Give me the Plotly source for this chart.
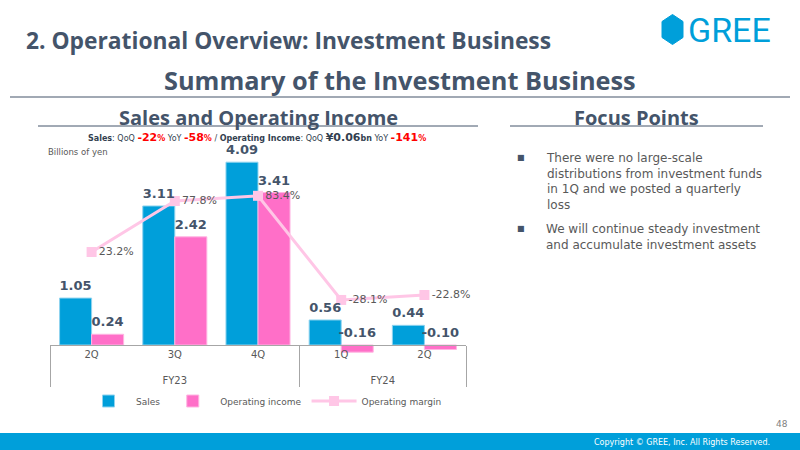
import plotly.graph_objects as go

# ---------------- data ----------------
fiscal_years = ["FY23", "FY23", "FY23", "FY24", "FY24"]
quarters = ["2Q", "3Q", "4Q", "1Q", "2Q"]
sales = [1.05, 3.11, 4.09, 0.56, 0.44]
operating_income = [0.24, 2.42, 3.41, -0.16, -0.10]
operating_margin = [23.2, 77.8, 83.4, -28.1, -22.8]

W, H = 800, 450
def px(x):
    return x / W
def py(y):
    return 1 - y / H

DARK = "#44546A"
GRAY = "#595959"
BLUE = "#009FDA"
PINK = "#FF6FC8"
LPINK = "#FFC6E6"
FONT = "DejaVu Sans"
TFONT = "Open Sans"

# quarter tick labels: a blank (non-breaking) second line adds room below the
# quarter row; the number of blanks keeps repeated quarter names distinct per year
seen = {}
quarter_labels = []
for q in quarters:
    seen[q] = seen.get(q, 0) + 1
    quarter_labels.append(q + "<br>" + "\u00a0" * seen[q])
xcat = [fiscal_years, quarter_labels]
idx = list(range(len(quarters)))
off = 0.1925

fig = go.Figure()
fig.add_trace(go.Bar(
    x=xcat, y=sales, name="Sales",
    marker=dict(color=BLUE, line=dict(color="#8FD3EF", width=1)),
    xaxis="x", yaxis="y",
))
fig.add_trace(go.Bar(
    x=xcat, y=operating_income, name="Operating income",
    marker=dict(color=PINK, line=dict(color="#FFB5E2", width=1)),
    xaxis="x", yaxis="y",
))
fig.add_trace(go.Scatter(
    x=xcat, y=operating_margin, name="Operating margin",
    mode="lines+markers+text",
    line=dict(color=LPINK, width=3),
    marker=dict(symbol="square", size=10, color=LPINK),
    text=[f"{v:.1f}%" for v in operating_margin],
    textposition="middle right",
    textfont=dict(family=FONT, size=11, color=GRAY),
    cliponaxis=False,
    xaxis="x", yaxis="y2",
))
# value labels (hidden numeric overlay axis aligned with the bar slots)
fig.add_trace(go.Scatter(
    x=[i - off for i in idx], y=[max(v, 0) for v in sales],
    mode="markers+text", text=[f"{v:.2f}" for v in sales],
    marker=dict(size=6, opacity=0),
    textposition="top center", cliponaxis=False,
    textfont=dict(family=FONT, size=13, color=DARK, weight="bold"),
    showlegend=False, hoverinfo="skip", xaxis="x2", yaxis="y",
))
fig.add_trace(go.Scatter(
    x=[i + off for i in idx], y=[max(v, 0) for v in operating_income],
    mode="markers+text", text=[f"{v:.2f}" for v in operating_income],
    marker=dict(size=6, opacity=0),
    textposition="top center", cliponaxis=False,
    textfont=dict(family=FONT, size=13, color=DARK, weight="bold"),
    showlegend=False, hoverinfo="skip", xaxis="x2", yaxis="y",
))

# axes geometry
y_top_px, y_bot_px, zero_px = 140, 360, 345
scale1 = 44.7
scale2 = 0.934
zero2_px = 273.7
y_range = [-(y_bot_px - zero_px) / scale1, (zero_px - y_top_px) / scale1]
y2_range = [-(y_bot_px - zero2_px) / scale2, (zero2_px - y_top_px) / scale2]
xdom = [px(50), px(466)]
ydom = [py(y_bot_px), py(y_top_px)]

fig.update_layout(
    width=W, height=H,
    margin=dict(l=0, r=0, t=0, b=0),
    paper_bgcolor="white", plot_bgcolor="rgba(0,0,0,0)",
    barmode="group", bargap=0.23, bargroupgap=0,
    font=dict(family=FONT, color=GRAY),
    xaxis=dict(
        type="multicategory", domain=xdom, anchor="free", position=py(zero_px),
        showline=True, linecolor="#A6A6A6", linewidth=1,
        ticks="", showgrid=False, zeroline=False,
        showdividers=True, dividercolor="#A6A6A6", dividerwidth=1,
        tickfont=dict(family=FONT, size=10, color=GRAY),
    ),
    xaxis2=dict(
        domain=xdom, overlaying="x", anchor="y", visible=False,
        range=[-0.5, len(quarters) - 0.5],
    ),
    yaxis=dict(domain=ydom, range=y_range, visible=False, fixedrange=True),
    yaxis2=dict(domain=ydom, range=y2_range, overlaying="y", visible=False),
    legend=dict(
        orientation="h", x=px(81), y=py(401), xanchor="left", yanchor="middle",
        font=dict(family=FONT, size=9, color=GRAY), itemwidth=45,
        bgcolor="rgba(0,0,0,0)", traceorder="normal",
    ),
    showlegend=True,
)

shapes = [
    dict(type="line", xref="paper", yref="paper", x0=px(10), x1=px(790), y0=py(97), y1=py(97),
         line=dict(color=DARK, width=1.2)),
    dict(type="line", xref="paper", yref="paper", x0=px(38), x1=px(478), y0=py(126), y1=py(126),
         line=dict(color=DARK, width=1)),
    dict(type="line", xref="paper", yref="paper", x0=px(510), x1=px(763), y0=py(126), y1=py(126),
         line=dict(color=DARK, width=1)),
    dict(type="rect", xref="paper", yref="paper", x0=0, x1=1, y0=0, y1=py(433),
         fillcolor="#009FDA", line=dict(width=0), layer="below"),
    dict(type="path", xref="paper", yref="paper",
         path=("M {a},{b} L {c},{d} L {c},{e} L {a},{f} L {g},{e} L {g},{d} Z").format(
             a=px(672.5), b=py(14.5), c=px(683), d=py(21.5), e=py(37.5), f=py(44.5), g=px(662)),
         fillcolor="#009FDA", line=dict(color="#009FDA", width=1)),
]

sub = ("<b>Sales</b>: QoQ <span style='color:#FF0000;font-size:11px'><b>-22</b></span>"
       "<span style='color:#FF0000'><b>%</b></span> YoY "
       "<span style='color:#FF0000;font-size:11px'><b>-58</b></span>"
       "<span style='color:#FF0000'><b>%</b></span> / <b>Operating Income</b>: QoQ "
       "<span style='font-size:11px'><b>¥0.06</b></span><b>bn</b> YoY "
       "<span style='color:#FF0000;font-size:11px'><b>-141</b></span>"
       "<span style='color:#FF0000'><b>%</b></span>")

annotations = [
    dict(text="<b>2. Operational Overview: Investment Business</b>", x=px(24), y=py(40),
         xanchor="left", yanchor="middle", font=dict(family=TFONT, size=22.8, color=DARK)),
    dict(text="<b>Summary of the Investment Business</b>", x=px(400), y=py(80),
         xanchor="center", yanchor="middle", font=dict(family=TFONT, size=25.3, color=DARK)),
    dict(text="<b>Sales and Operating Income</b>", x=px(258), y=py(117),
         xanchor="center", yanchor="middle", font=dict(family=TFONT, size=20, color=DARK)),
    dict(text="<b>Focus Points</b>", x=px(636), y=py(117),
         xanchor="center", yanchor="middle", font=dict(family=TFONT, size=20, color=DARK)),
    dict(text=sub, x=px(257), y=py(137), xanchor="center", yanchor="middle",
         font=dict(family=FONT, size=8, color="#333F50")),
    dict(text="Billions of yen", x=px(46), y=py(152), xanchor="left", yanchor="middle",
         font=dict(family=FONT, size=8.5, color=GRAY)),
    dict(text="■", x=px(521), y=py(157), xanchor="center", yanchor="middle",
         font=dict(family=FONT, size=8, color=DARK)),
    dict(text="There were no large-scale<br>distributions from investment funds<br>"
              "in 1Q and we posted a quarterly<br>loss",
         x=px(544), y=py(149), xanchor="left", yanchor="top", align="left",
         font=dict(family=FONT, size=12, color=GRAY)),
    dict(text="■", x=px(521), y=py(228), xanchor="center", yanchor="middle",
         font=dict(family=FONT, size=8, color=DARK)),
    dict(text="We will continue steady investment<br>and accumulate investment assets",
         x=px(544), y=py(220), xanchor="left", yanchor="top", align="left",
         font=dict(family=FONT, size=12, color=GRAY)),
    dict(text="GREE", x=px(686), y=py(30), xanchor="left", yanchor="middle",
         font=dict(family="Roboto", size=34, color="#009FDA")),
    dict(text="48", x=px(790), y=py(424), xanchor="right", yanchor="middle",
         font=dict(family=FONT, size=9, color="#7F7F7F")),
    dict(text="Copyright © GREE, Inc. All Rights Reserved.", x=px(772), y=py(442),
         xanchor="right", yanchor="middle", font=dict(family=FONT, size=8, color="white")),
]
for a in annotations:
    a.update(xref="paper", yref="paper", showarrow=False)

fig.update_layout(shapes=shapes, annotations=annotations)
fig.write_html("out.html")
